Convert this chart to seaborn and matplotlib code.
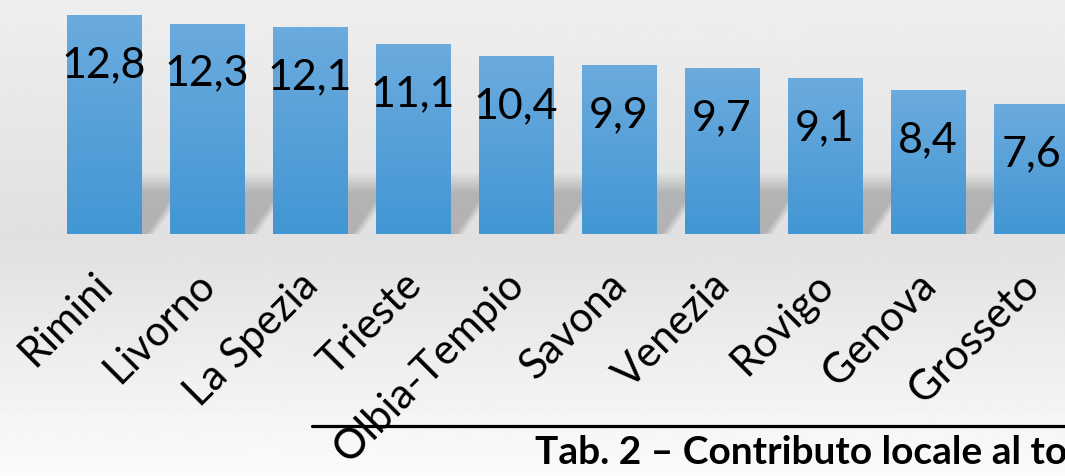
import numpy as np
import matplotlib
matplotlib.use("Agg")
import matplotlib.pyplot as plt
import seaborn as sns
from matplotlib.lines import Line2D
from matplotlib.transforms import ScaledTranslation

# Data
cities = ["Rimini", "Livorno", "La Spezia", "Trieste", "Olbia-Tempio",
          "Savona", "Venezia", "Rovigo", "Genova", "Grosseto"]
values = [12.8, 12.3, 12.1, 11.1, 10.4, 9.9, 9.7, 9.1, 8.4, 7.6]
labels = ["12,8", "12,3", "12,1", "11,1", "10,4", "9,9", "9,7", "9,1", "8,4", "7,6"]
caption = "Tab. 2 \u2013 Contributo locale al to"

sns.set_style("white")
plt.rcParams['font.family'] = ['Lato', 'DejaVu Sans']

W, H = 1065, 476
fig = plt.figure(figsize=(W / 100, H / 100), dpi=100)

# background gradient (light top, darker middle, light bottom)
bg = fig.add_axes([0, 0, 1, 1], zorder=-10)
rows = np.linspace(0, 1, 300)
shade = np.interp(rows, [0, 0.5, 1.0], [0.935, 0.88, 0.985])
bg.imshow(np.repeat(shade[:, None], 2, axis=1), cmap="gray", vmin=0, vmax=1,
          aspect="auto", extent=[0, 1, 0, 1], origin="upper")
bg.set_axis_off()

# main axes: bottom of bars at y=234 px
base_px = 234
px_per_unit = 17.1
ax = fig.add_axes([0, (H - base_px) / H, 1, base_px / H])
ax.patch.set_alpha(0)

bar_w = 0.72
sns.barplot(x=cities, y=values, color="#559fd9", width=bar_w, ax=ax,
            zorder=3, linewidth=0)

ax.set_xlim(-1.01, (W - 104) / 103)
ax.set_ylim(0, base_px / px_per_unit)

# bar gradients
grad = np.linspace(0, 1, 100)[:, None]
top_c = np.array([0.42, 0.67, 0.87])
bot_c = np.array([0.26, 0.59, 0.83])
img = top_c * (1 - grad[..., None]) + bot_c * grad[..., None]
img = np.repeat(img, 2, axis=1)
for p in ax.patches:
    x0, w, h = p.get_x(), p.get_width(), p.get_height()
    im = ax.imshow(img, extent=[x0, x0 + w, 0, h], aspect="auto",
                   origin="upper", zorder=4)
    im.set_clip_path(p)

# soft cast shadows behind the bars (skewed to the upper right)
sh_h = 3.6
ny, nx = 90, 120
for i, v in enumerate(values):
    right = i + bar_w / 2
    xs = np.linspace(i - bar_w / 2, right + 0.6, nx)
    ys = np.linspace(0, sh_h, ny)
    X, Y = np.meshgrid(xs, ys)
    edge = right + (10 + 0.7 * Y * px_per_unit) / 103
    hx = np.clip((edge - X) / 0.09 + 0.5, 0, 1)
    vy = np.clip((sh_h - Y) / 1.2, 0, 1)
    alpha = 0.21 * hx * vy
    rgba = np.zeros((ny, nx, 4))
    rgba[..., 3] = alpha
    ax.imshow(rgba, extent=[xs[0], xs[-1], 0, sh_h], origin="lower",
              aspect="auto", zorder=2, interpolation="bilinear")

# value labels inside the bars
for i, (v, lab) in enumerate(zip(values, labels)):
    ax.text(i, v - 50 / px_per_unit, lab, ha="center", va="center",
            fontsize=31, color="black", zorder=5)

ax.set_xticks(range(len(cities)))
ax.set_xticklabels(cities, rotation=45, ha="right", va="center",
                   rotation_mode="anchor", fontsize=30, color="black")
ax.tick_params(axis="x", length=0, pad=0)
off = ScaledTranslation(0.02, -0.45, fig.dpi_scale_trans)
for t in ax.get_xticklabels():
    t.set_transform(t.get_transform() + off)
ax.set_yticks([])
ax.set_xlabel("")
sns.despine(ax=ax, left=True, bottom=True)

# caption rule and title
fig.add_artist(Line2D([312 / W, 1], [1 - 425.5 / H] * 2, color="black",
                      lw=2.3, transform=fig.transFigure))
fig.text(535 / W, 1 - 464 / H, caption, fontsize=28, fontweight="bold",
         ha="left", va="baseline", color="black")

fig.savefig("out.png", dpi=100)
